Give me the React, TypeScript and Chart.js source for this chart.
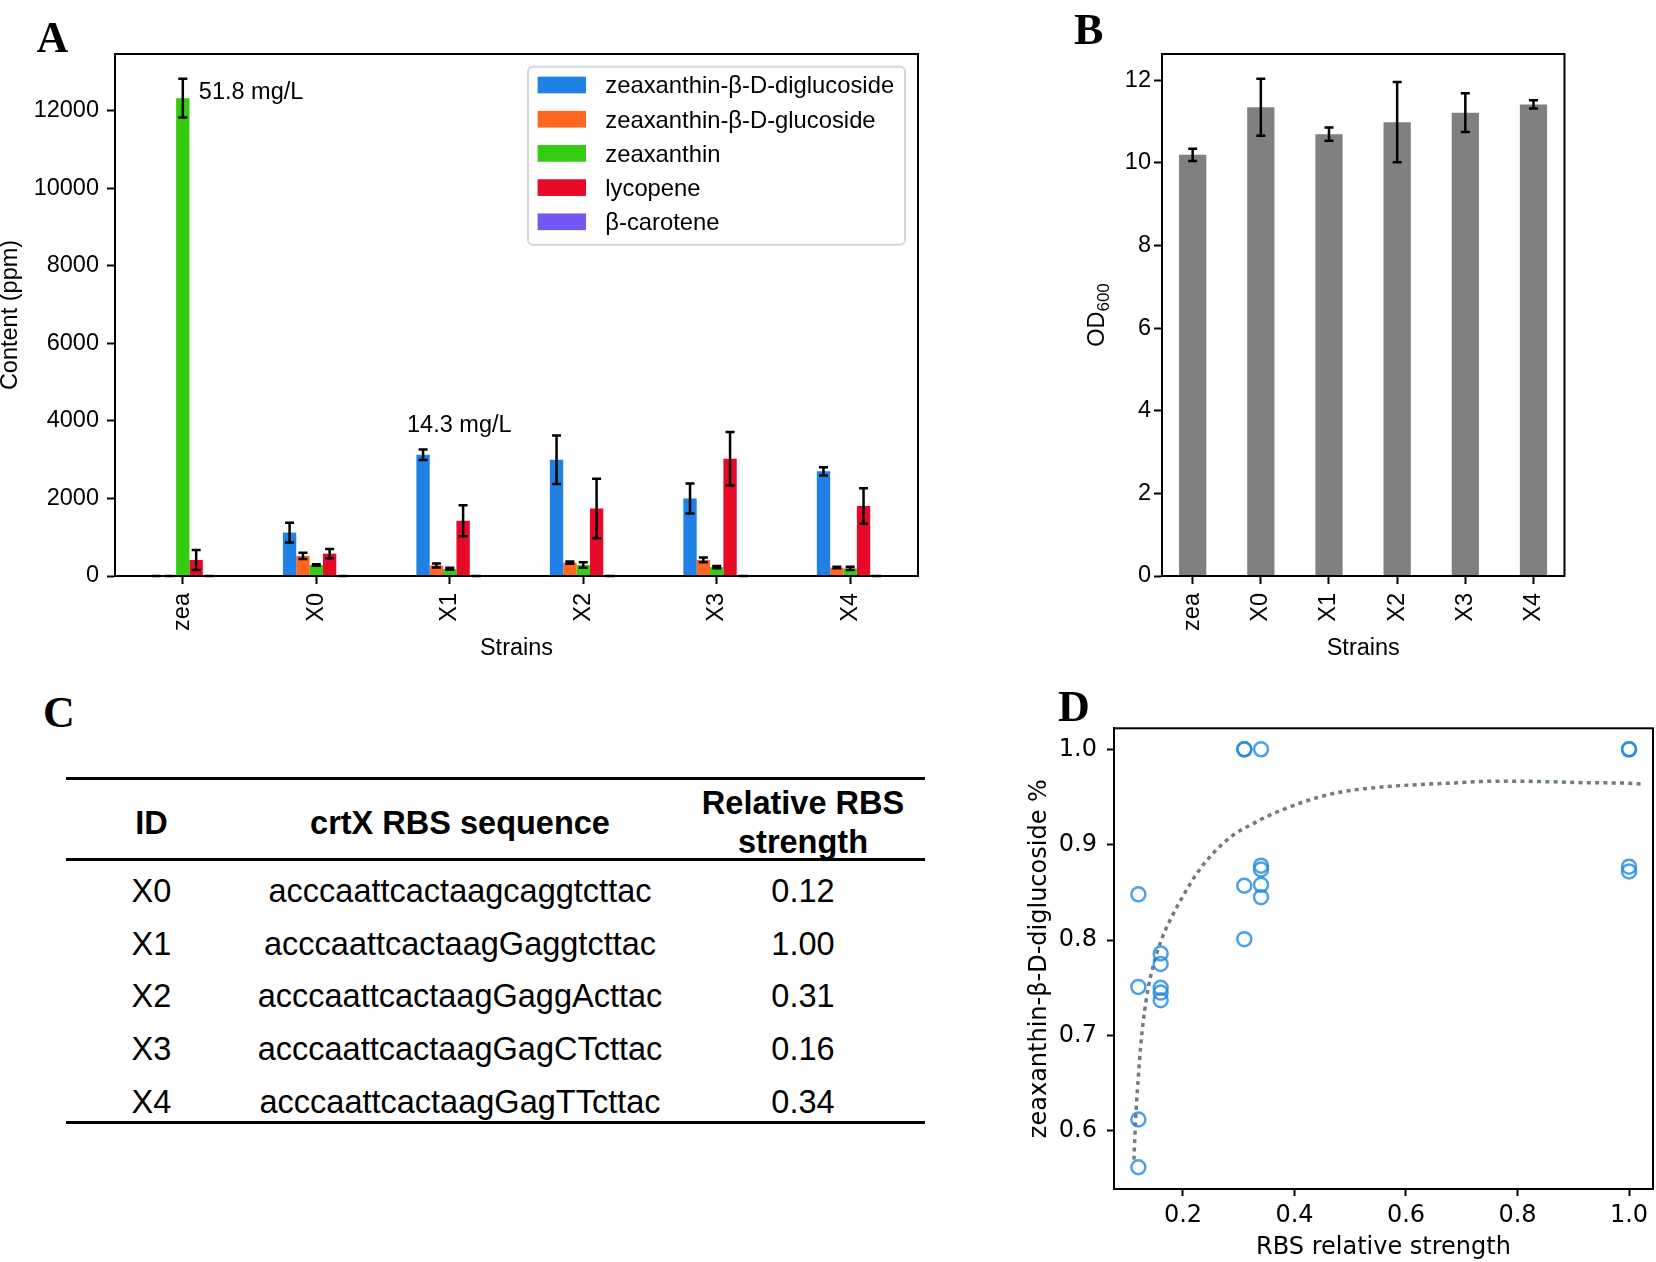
import React, { useEffect, useRef } from 'react';
import { Chart, registerables } from 'chart.js';

Chart.register(...registerables);

// ---------- data ----------
const strains = ['zea', 'X0', 'X1', 'X2', 'X3', 'X4'];
const seriesNames = [
  'zeaxanthin-β-D-diglucoside',
  'zeaxanthin-β-D-glucoside',
  'zeaxanthin',
  'lycopene',
  'β-carotene',
];
const seriesColors = ['#1f80e6', '#ff661f', '#33cc11', '#e80828', '#7357f0'];
const diglucoside = [0, 1120, 3130, 3000, 2000, 2700];
const diglucosideErr = [0, 255, 135, 625, 385, 105];
const glucoside = [0, 520, 270, 345, 415, 218];
const glucosideErr = [0, 80, 50, 30, 60, 20];
const zeaxanthin = [12330, 283, 185, 283, 228, 196];
const zeaxanthinErr = [500, 20, 25, 70, 30, 40];
const lycopene = [413, 577, 1425, 1741, 3025, 1806];
const lycopeneErr = [255, 120, 400, 770, 690, 460];
const betaCarotene = [0, 0, 0, 0, 0, 0];
const betaCaroteneErr = [0, 0, 0, 0, 0, 0];
const contentTicks = [0, 2000, 4000, 6000, 8000, 10000, 12000];
const annotationTexts = ['51.8 mg/L', '14.3 mg/L'];
const annotationX = [0.12, 1.68];
const annotationY = [12300, 3715];

const od600 = [10.19, 11.34, 10.69, 10.98, 11.21, 11.41];
const od600Err = [0.15, 0.69, 0.16, 0.97, 0.47, 0.1];
const odTicks = [0, 2, 4, 6, 8, 10, 12];

const tableIds = ['X0', 'X1', 'X2', 'X3', 'X4'];
const tableSeqs = [
  'acccaattcactaagcaggtcttac',
  'acccaattcactaagGaggtcttac',
  'acccaattcactaagGaggActtac',
  'acccaattcactaagGagCTcttac',
  'acccaattcactaagGagTTcttac',
];
const tableStrengths = ['0.12', '1.00', '0.31', '0.16', '0.34'];

const rbsX = [
  0.12, 0.12, 0.12, 0.12,
  0.16, 0.16, 0.16, 0.16, 0.16,
  0.31, 0.31, 0.31, 0.31,
  0.34, 0.34, 0.34, 0.34, 0.34,
  1.0, 1.0, 1.0, 1.0,
];
const rbsY = [
  0.848, 0.751, 0.612, 0.562,
  0.786, 0.775, 0.75, 0.745, 0.737,
  1.0, 1.0, 0.857, 0.801,
  1.0, 0.878, 0.874, 0.858, 0.845,
  1.0, 1.0, 0.877, 0.872,
];
const fitX = [0.112, 0.116, 0.12, 0.124, 0.129, 0.138, 0.148, 0.161, 0.177, 0.198, 0.225, 0.254, 0.29, 0.332, 0.352, 0.412, 0.472, 0.547, 0.622, 0.697, 0.75, 0.802, 0.922, 1.0, 1.025];
const fitY = [0.57, 0.622, 0.657, 0.688, 0.716, 0.751, 0.776, 0.8, 0.821, 0.844, 0.87, 0.891, 0.91, 0.924, 0.93, 0.944, 0.954, 0.96, 0.963, 0.965, 0.9665, 0.9665, 0.965, 0.9644, 0.9636];
const dXTicks = [0.2, 0.4, 0.6, 0.8, 1.0];
const dYTicks = [0.6, 0.7, 0.8, 0.9, 1.0];

// ---------- styles ----------
const fontA = "'Liberation Sans', Arial, Helvetica, sans-serif";
const fontD = "'DejaVu Sans', sans-serif";
const fontSerif = "'Liberation Serif', 'Times New Roman', serif";

// ---------- plugins ----------
const framePlugin = {
  id: 'frame',
  afterDraw(chart: any) {
    const { ctx, chartArea } = chart;
    ctx.save();
    ctx.strokeStyle = '#000';
    ctx.lineWidth = 2;
    ctx.strokeRect(chartArea.left, chartArea.top, chartArea.right - chartArea.left, chartArea.bottom - chartArea.top);
    ctx.restore();
  },
};

const errorBarPlugin = {
  id: 'errorBars',
  afterDatasetsDraw(chart: any) {
    const { ctx } = chart;
    const ys = chart.scales.y;
    chart.data.datasets.forEach((ds: any, di: number) => {
      if (!ds.errors) return;
      const meta = chart.getDatasetMeta(di);
      meta.data.forEach((el: any, i: number) => {
        const v = ds.data[i].y;
        const e = ds.errors[i];
        const x = el.x;
        const yt = ys.getPixelForValue(v + e);
        const yb = ys.getPixelForValue(Math.max(0, v - e));
        const cap = 4.5;
        ctx.save();
        ctx.strokeStyle = '#000';
        ctx.lineWidth = 2.5;
        ctx.beginPath();
        ctx.moveTo(x, yb);
        ctx.lineTo(x, yt);
        ctx.moveTo(x - cap, yt);
        ctx.lineTo(x + cap, yt);
        ctx.moveTo(x - cap, yb);
        ctx.lineTo(x + cap, yb);
        ctx.stroke();
        ctx.restore();
      });
    });
  },
};

const legendPlugin = {
  id: 'boxLegend',
  afterDraw(chart: any) {
    const { ctx, chartArea } = chart;
    const w = 377;
    const h = 178;
    const left = chartArea.right - 13 - w;
    const top = chartArea.top + 12.7;
    ctx.save();
    ctx.beginPath();
    (ctx as any).roundRect(left, top, w, h, 5);
    ctx.fillStyle = 'rgba(255,255,255,0.85)';
    ctx.fill();
    ctx.strokeStyle = '#d2d8d2';
    ctx.lineWidth = 2;
    ctx.stroke();
    chart.data.datasets.forEach((ds: any, i: number) => {
      const cy = top + 18.3 + i * 34.2;
      ctx.fillStyle = ds.backgroundColor;
      ctx.fillRect(left + 9.6, cy - 8.35, 48.4, 16.7);
      ctx.fillStyle = '#000';
      ctx.font = `23.8px ${fontA}`;
      ctx.textBaseline = 'alphabetic';
      ctx.textAlign = 'left';
      ctx.fillText(ds.label, left + 77.3, cy + 8.3);
    });
    ctx.restore();
  },
};

const annotationPlugin = {
  id: 'annot',
  afterDraw(chart: any) {
    const { ctx } = chart;
    ctx.save();
    ctx.fillStyle = '#000';
    ctx.font = `23.5px ${fontA}`;
    ctx.textAlign = 'left';
    ctx.textBaseline = 'alphabetic';
    annotationTexts.forEach((t, i) => {
      ctx.fillText(t, chart.scales.x.getPixelForValue(annotationX[i]), chart.scales.y.getPixelForValue(annotationY[i]));
    });
    ctx.restore();
  },
};

const odTitlePlugin = {
  id: 'odTitle',
  afterDraw(chart: any) {
    const { ctx, chartArea } = chart;
    const cx = chartArea.left - 64;
    const cy = (chartArea.top + chartArea.bottom) / 2;
    ctx.save();
    ctx.translate(cx, cy);
    ctx.rotate(-Math.PI / 2);
    ctx.fillStyle = '#000';
    ctx.textBaseline = 'middle';
    ctx.textAlign = 'left';
    ctx.font = `23.5px ${fontA}`;
    const w1 = ctx.measureText('OD').width;
    ctx.font = `17px ${fontA}`;
    const w2 = ctx.measureText('600').width;
    const x0 = -(w1 + w2) / 2;
    ctx.font = `23.5px ${fontA}`;
    ctx.fillText('OD', x0, 0);
    ctx.font = `17px ${fontA}`;
    ctx.fillText('600', x0 + w1, 6);
    ctx.restore();
  },
};

// ---------- helpers ----------
function tickGrid(len: number) {
  return { drawOnChartArea: false, drawTicks: true, tickLength: len, tickWidth: 2, tickColor: '#000', offset: false };
}
const border = { display: true, color: '#000', width: 2 };

function fixX(h: number) {
  return (s: any) => {
    s.height = h;
    s.paddingLeft = 0;
    s.paddingRight = 0;
  };
}
function fixY(w: number) {
  return (s: any) => {
    s.width = w;
    s.paddingTop = 0;
    s.paddingBottom = 0;
  };
}

function makeA(): any {
  const values = [diglucoside, glucoside, zeaxanthin, lycopene, betaCarotene];
  const errors = [diglucosideErr, glucosideErr, zeaxanthinErr, lycopeneErr, betaCaroteneErr];
  return {
    type: 'bar',
    data: {
      datasets: values.map((vals, k) => ({
        label: seriesNames[k],
        data: vals.map((v, i) => ({ x: i, y: v })),
        errors: errors[k],
        backgroundColor: seriesColors[k],
        borderWidth: 0,
        categoryPercentage: 0.5,
        barPercentage: 1,
      })),
    },
    options: {
      responsive: false,
      animation: false,
      devicePixelRatio: 1,
      layout: { autoPadding: false, padding: { top: 54, right: 22, left: 0, bottom: 0 } },
      plugins: { legend: { display: false }, tooltip: { enabled: false } },
      scales: {
        x: {
          type: 'linear',
          min: -0.508,
          max: 5.508,
          offset: false,
          afterFit: fixX(84),
          afterBuildTicks: (s: any) => { s.ticks = strains.map((_, i) => ({ value: i })); },
          ticks: {
            autoSkip: false, minRotation: 90, maxRotation: 90, padding: 9, color: '#000',
            font: { family: fontA, size: 23.5 },
            callback: (v: any) => strains[v],
          },
          grid: tickGrid(8),
          border,
          title: { display: true, text: 'Strains', color: '#000', font: { family: fontA, size: 23.5, lineHeight: 1 }, padding: { top: 0, bottom: 0 } },
        },
        y: {
          min: 0,
          max: 13470,
          afterFit: fixY(115),
          afterBuildTicks: (s: any) => { s.ticks = contentTicks.map((v) => ({ value: v })); },
          ticks: { padding: 8, color: '#000', font: { family: fontA, size: 23.5 }, callback: (v: any) => String(v) },
          grid: tickGrid(8),
          border,
          title: { display: true, text: 'Content (ppm)', color: '#000', font: { family: fontA, size: 23.5, lineHeight: 0.9 }, padding: { top: 0, bottom: 0 } },
        },
      },
    },
    plugins: [errorBarPlugin, framePlugin, legendPlugin, annotationPlugin],
  };
}

function makeB(): any {
  return {
    type: 'bar',
    data: {
      datasets: [{
        label: 'OD600',
        data: od600.map((v, i) => ({ x: i, y: v })),
        errors: od600Err,
        backgroundColor: '#808080',
        borderWidth: 0,
        categoryPercentage: 0.4,
        barPercentage: 1,
      }],
    },
    options: {
      responsive: false,
      animation: false,
      devicePixelRatio: 1,
      layout: { autoPadding: false, padding: { top: 54, right: 91.5, left: 0, bottom: 0 } },
      plugins: { legend: { display: false }, tooltip: { enabled: false } },
      scales: {
        x: {
          type: 'linear',
          min: -0.45,
          max: 5.455,
          offset: false,
          afterFit: fixX(84),
          afterBuildTicks: (s: any) => { s.ticks = strains.map((_, i) => ({ value: i })); },
          ticks: {
            autoSkip: false, minRotation: 90, maxRotation: 90, padding: 9, color: '#000',
            font: { family: fontA, size: 23.5 },
            callback: (v: any) => strains[v],
          },
          grid: tickGrid(8),
          border,
          title: { display: true, text: 'Strains', color: '#000', font: { family: fontA, size: 23.5, lineHeight: 1 }, padding: { top: 0, bottom: 0 } },
        },
        y: {
          min: 0,
          max: 12.63,
          afterFit: fixY(82),
          afterBuildTicks: (s: any) => { s.ticks = odTicks.map((v) => ({ value: v })); },
          ticks: { padding: 3, color: '#000', font: { family: fontA, size: 23.5 }, callback: (v: any) => String(v) },
          grid: tickGrid(8),
          border,
          title: { display: false },
        },
      },
    },
    plugins: [errorBarPlugin, framePlugin, odTitlePlugin],
  };
}

function makeD(): any {
  return {
    type: 'scatter',
    data: {
      datasets: [
        {
          label: 'measurements',
          data: rbsX.map((x, i) => ({ x, y: rbsY[i] })),
          pointRadius: 7,
          pointBorderWidth: 2.5,
          borderColor: 'rgba(30,136,229,0.8)',
          backgroundColor: 'rgba(0,0,0,0)',
          pointBackgroundColor: 'rgba(0,0,0,0)',
          pointBorderColor: 'rgba(30,136,229,0.8)',
        },
        {
          label: 'fit',
          data: fitX.map((x, i) => ({ x, y: fitY[i] })),
          showLine: true,
          pointRadius: 0,
          borderColor: '#6e7d7d',
          borderWidth: 3.5,
          borderDash: [4, 4.3],
          cubicInterpolationMode: 'monotone',
          fill: false,
        },
      ],
    },
    options: {
      responsive: false,
      animation: false,
      devicePixelRatio: 1,
      layout: { autoPadding: false, padding: { top: 48.3, right: 3, left: 0, bottom: 0 } },
      plugins: { legend: { display: false }, tooltip: { enabled: false } },
      scales: {
        x: {
          type: 'linear',
          min: 0.0763,
          max: 1.043,
          afterFit: fixX(73),
          afterBuildTicks: (s: any) => { s.ticks = dXTicks.map((v) => ({ value: v })); },
          ticks: { padding: 5, color: '#000', maxRotation: 0, font: { family: fontD, size: 24 }, callback: (v: any) => Number(v).toFixed(1) },
          grid: tickGrid(7),
          border,
          title: { display: true, text: 'RBS relative strength', color: '#000', font: { family: fontD, size: 24, lineHeight: 1 }, padding: { top: 0, bottom: 2 } },
        },
        y: {
          min: 0.5392,
          max: 1.022,
          afterFit: fixY(98),
          afterBuildTicks: (s: any) => { s.ticks = dYTicks.map((v) => ({ value: v })); },
          ticks: { padding: 10, color: '#000', font: { family: fontD, size: 24 }, callback: (v: any) => Number(v).toFixed(1) },
          grid: tickGrid(7),
          border,
          title: { display: true, text: 'zeaxanthin-β-D-diglucoside %', color: '#000', font: { family: fontD, size: 24, lineHeight: 1 }, padding: { top: 11.5, bottom: 0 } },
        },
      },
    },
    plugins: [framePlugin],
  };
}

// ---------- components ----------
function ChartBox(props: { left: number; top: number; width: number; height: number; make: () => any }) {
  const ref = useRef<HTMLCanvasElement>(null);
  useEffect(() => {
    const chart = new Chart(ref.current as HTMLCanvasElement, props.make());
    return () => chart.destroy();
  }, []);
  return (
    <canvas
      ref={ref}
      width={props.width}
      height={props.height}
      style={{ position: 'absolute', left: props.left, top: props.top, width: props.width, height: props.height }}
    />
  );
}

function PanelLabel(props: { text: string; left: number; top: number }) {
  return (
    <div style={{ position: 'absolute', left: props.left, top: props.top, fontFamily: fontSerif, fontWeight: 'bold', fontSize: 44, lineHeight: '44px', color: '#000' }}>
      {props.text}
    </div>
  );
}

function Cell(props: { text: string; cx: number; cy: number; bold?: boolean }) {
  return (
    <div
      style={{
        position: 'absolute', left: props.cx, top: props.cy, transform: 'translate(-50%, -50%)',
        fontFamily: fontA, fontSize: 32.5, lineHeight: '32.5px', whiteSpace: 'nowrap',
        fontWeight: props.bold ? 'bold' : 'normal', color: '#000',
      }}
    >
      {props.text}
    </div>
  );
}

function Rule(props: { y: number }) {
  return <div style={{ position: 'absolute', left: 66, top: props.y - 1.5, width: 859, height: 3, background: '#000' }} />;
}

function TableC() {
  const colX = [151.5, 460, 803];
  const rowY0 = 890.8;
  const rowStep = 52.7;
  return (
    <>
      <Rule y={778.3} />
      <Rule y={859.5} />
      <Rule y={1122.5} />
      <Cell text="ID" cx={colX[0]} cy={822.5} bold />
      <Cell text="crtX RBS sequence" cx={colX[1]} cy={822.5} bold />
      <Cell text="Relative RBS" cx={colX[2]} cy={802.5} bold />
      <Cell text="strength" cx={colX[2]} cy={841.5} bold />
      {tableIds.map((id, i) => (
        <React.Fragment key={id}>
          <Cell text={id} cx={colX[0]} cy={rowY0 + i * rowStep} />
          <Cell text={tableSeqs[i]} cx={colX[1]} cy={rowY0 + i * rowStep} />
          <Cell text={tableStrengths[i]} cx={colX[2]} cy={rowY0 + i * rowStep} />
        </React.Fragment>
      ))}
    </>
  );
}

export default function App() {
  return (
    <div style={{ position: 'absolute', left: 0, top: 0, width: 1656, height: 1262, background: '#fff', overflow: 'hidden' }}>
      <ChartBox left={0} top={0} width={940} height={660} make={makeA} />
      <ChartBox left={1080} top={0} width={576} height={660} make={makeB} />
      <ChartBox left={1016} top={680} width={640} height={582} make={makeD} />
      <TableC />
      <PanelLabel text="A" left={36.5} top={16} />
      <PanelLabel text="B" left={1074} top={7.5} />
      <PanelLabel text="C" left={43} top={690.6} />
      <PanelLabel text="D" left={1058} top={684.5} />
    </div>
  );
}
